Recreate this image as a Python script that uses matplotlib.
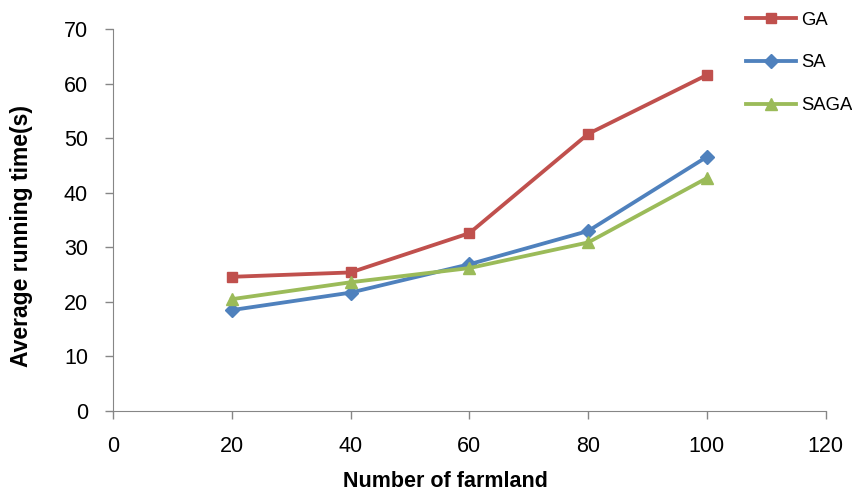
import matplotlib
matplotlib.use("Agg")
import matplotlib.pyplot as plt

plt.rcParams['font.family'] = ['Liberation Sans', 'DejaVu Sans']

farmland = [20, 40, 60, 80, 100]
ga = [24.6, 25.4, 32.6, 50.8, 61.6]
sa = [18.5, 21.7, 26.9, 33.0, 46.6]
saga = [20.5, 23.6, 26.2, 30.9, 42.7]

fig = plt.figure(figsize=(8.53, 4.94), dpi=100)
ax = fig.add_axes([0.1325, 0.168, 0.8355, 0.773])

ax.plot(farmland, ga, color='#C0504D', marker='s', markersize=7.5, linewidth=2.75, label='GA')
ax.plot(farmland, sa, color='#4F81BD', marker='D', markersize=7, linewidth=2.75, label='SA')
ax.plot(farmland, saga, color='#9BBB59', marker='^', markersize=9, linewidth=2.75, label='SAGA')

ax.set_xlim(0, 120)
ax.set_ylim(0, 70)
ax.set_xticks(range(0, 121, 20))
ax.set_yticks(range(0, 71, 10))
ax.tick_params(labelsize=15.5, color='#868686', length=6, width=1)
ax.tick_params(axis='x', pad=12)
ax.tick_params(axis='y', pad=12)
for side in ['top', 'right']:
    ax.spines[side].set_visible(False)
for side in ['left', 'bottom']:
    ax.spines[side].set_color('#868686')

ax.set_xlabel('Number of farmland', fontsize=15.5, fontweight='bold')
ax.set_ylabel('Average running time(s)', fontsize=16.5, fontweight='bold')
ax.xaxis.set_label_coords(0.467, -0.157)
ax.yaxis.set_label_coords(-0.112, 0.458)

fig.legend(loc='center left', bbox_to_anchor=(0.875, 0.8725), frameon=False,
           fontsize=13.3, labelspacing=1.4, handlelength=2.7, handletextpad=0.25,
           borderpad=0, borderaxespad=0)

fig.savefig('out.png', dpi=100)
